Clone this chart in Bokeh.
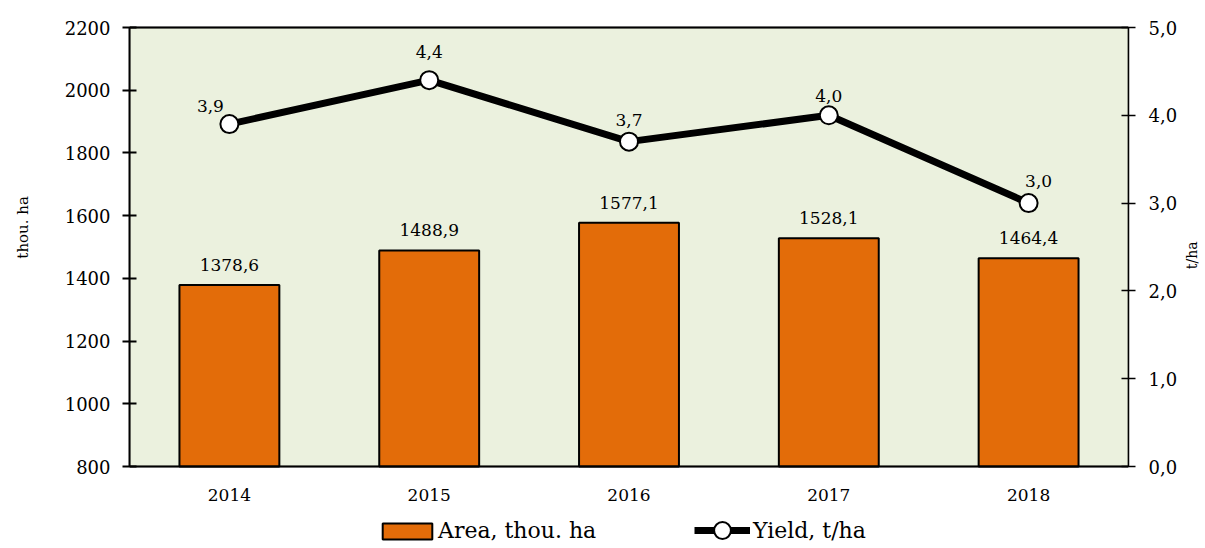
import math
from bokeh.plotting import figure
from bokeh.models import (Range1d, LinearAxis, FixedTicker, ColumnDataSource,
                          Legend, LegendItem, FactorRange, BoxAnnotation, Span)
from bokeh.core.properties import value
from bokeh.embed import file_html
from bokeh.resources import INLINE

years = ["2014", "2015", "2016", "2017", "2018"]
area = [1378.6, 1488.9, 1577.1, 1528.1, 1464.4]
yield_t = [3.9, 4.4, 3.7, 4.0, 3.0]
left_ticks = [800, 1000, 1200, 1400, 1600, 1800, 2000, 2200]
right_ticks = [0, 1, 2, 3, 4, 5]

FONT = "DejaVu Serif"
BAR = "#E36C09"
BG = "#EBF1DE"
NBSP = "\u00a0"

L_MIN, L_MAX = 800, 2200
R_MIN, R_MAX = 0, 5
PLOT_H = 439      # pixel height of the value area
BELOW_H = 82      # pixel room under the value area (year labels + legend)
TOP_PAD = 2       # pixel room above the value area so the top border is not clipped

def comma(v, nd=1):
    return f"{v:.{nd}f}".replace(".", ",")

src = ColumnDataSource(dict(
    year=years, area=area, yld=yield_t,
    area_lbl=[comma(v) for v in area],
    yld_lbl=[comma(v) for v in yield_t],
    base=[L_MIN] * len(years),
))
# label offsets (style only)
src.data["dx"] = [-19, 0, 0, 0, 10]
src.data["dy"] = [-18, -28, -22, -19, -22]

l_px = (L_MAX - L_MIN) / PLOT_H
r_px = (R_MAX - R_MIN) / PLOT_H

p = figure(x_range=FactorRange(*years, range_padding=0),
           y_range=Range1d(L_MIN - BELOW_H * l_px, L_MAX + TOP_PAD * l_px),
           x_axis_location=None,
           frame_width=999, frame_height=PLOT_H + BELOW_H + TOP_PAD,
           min_border_left=129, min_border_top=27 - TOP_PAD, min_border_right=77,
           min_border_bottom=0,
           output_backend="svg", toolbar_location=None,
           background_fill_color="white", border_fill_color="white")
p.outline_line_color = None
p.grid.visible = False
p.extra_y_ranges = {"r": Range1d(R_MIN - BELOW_H * r_px, R_MAX + TOP_PAD * r_px)}

# plot-area background and frame
p.add_layout(BoxAnnotation(bottom=L_MIN, top=L_MAX, fill_color=BG, fill_alpha=1,
                           line_color="black", line_width=2, level="underlay"))

bars = p.vbar(x="year", top="area", bottom=L_MIN, width=0.5, source=src,
              fill_color=BAR, line_color="black", line_width=2)
p.add_layout(Span(location=L_MIN, dimension="width", line_color="black", line_width=2))
p.add_layout(Span(location=L_MAX, dimension="width", line_color="black", line_width=2))

ln = p.line(x="year", y="yld", source=src, y_range_name="r",
            line_color="black", line_width=7)
pts = p.scatter(x="year", y="yld", source=src, y_range_name="r", size=18,
                marker="circle", fill_color="white", line_color="black", line_width=2)

p.text(x="year", y="area", text="area_lbl", source=src, y_offset=-20,
       text_align="center", text_baseline="middle",
       text_font=value(FONT), text_font_size="17px", text_color="black")
p.text(x="year", y="yld", text="yld_lbl", source=src, y_range_name="r",
       x_offset="dx", y_offset="dy",
       text_align="center", text_baseline="middle",
       text_font=value(FONT), text_font_size="17px", text_color="black")
# category labels under the axis line
p.text(x="year", y="base", text="year", source=src, y_offset=28,
       text_align="center", text_baseline="middle",
       text_font=value(FONT), text_font_size="17px", text_color="black")

# left axis
la = p.yaxis[0]
la.ticker = FixedTicker(ticks=left_ticks)
la.bounds = (L_MIN, L_MAX)
la.minor_tick_line_color = None
la.major_tick_in = 7
la.major_tick_out = 7
la.major_tick_line_width = 2
la.axis_line_width = 2
la.major_label_text_font = FONT
la.major_label_text_font_size = "18px"
la.major_label_text_color = "black"
la.major_label_standoff = 12
la.axis_label = NBSP * 25 + "thou. ha"
la.axis_label_text_font = FONT
la.axis_label_text_font_size = "15px"
la.axis_label_text_font_style = "normal"
la.axis_label_text_color = "black"
la.axis_label_standoff = 30

# right axis
ra = LinearAxis(y_range_name="r", ticker=FixedTicker(ticks=right_ticks))
ra.bounds = (R_MIN, R_MAX)
ra.major_label_overrides = {t: comma(t) for t in right_ticks}
ra.minor_tick_line_color = None
ra.major_tick_in = 7
ra.major_tick_out = 7
ra.major_tick_line_width = 1.5
ra.axis_line_width = 1.5
ra.major_label_text_font = FONT
ra.major_label_text_font_size = "18px"
ra.major_label_text_color = "black"
ra.major_label_standoff = 13
ra.axis_label = NBSP * 4 + "t/ha"
ra.axis_label_text_font = FONT
ra.axis_label_text_font_size = "14px"
ra.axis_label_text_font_style = "normal"
ra.axis_label_text_color = "black"
ra.axis_label_standoff = 12
ra.axis_label_orientation = math.pi / 2
p.add_layout(ra, "right")

legend_area = Legend(items=[LegendItem(label="Area, thou. ha", renderers=[bars])],
                     location=(247, 5), orientation="horizontal",
                     glyph_width=62, glyph_height=20, label_standoff=0,
                     padding=0, margin=0, border_line_color=None,
                     background_fill_alpha=0,
                     label_text_font=FONT, label_text_font_size="22px",
                     label_text_color="black")
legend_yield = Legend(items=[LegendItem(label="Yield, t/ha", renderers=[ln, pts])],
                      location=(565, -3), orientation="horizontal",
                      glyph_width=56, glyph_height=42, label_standoff=3,
                      padding=0, margin=0, border_line_color=None,
                      background_fill_alpha=0,
                      label_text_font=FONT, label_text_font_size="22px",
                      label_text_color="black")
p.add_layout(legend_area, "center")
p.add_layout(legend_yield, "center")

open("out.html", "w").write(file_html(p, INLINE))
